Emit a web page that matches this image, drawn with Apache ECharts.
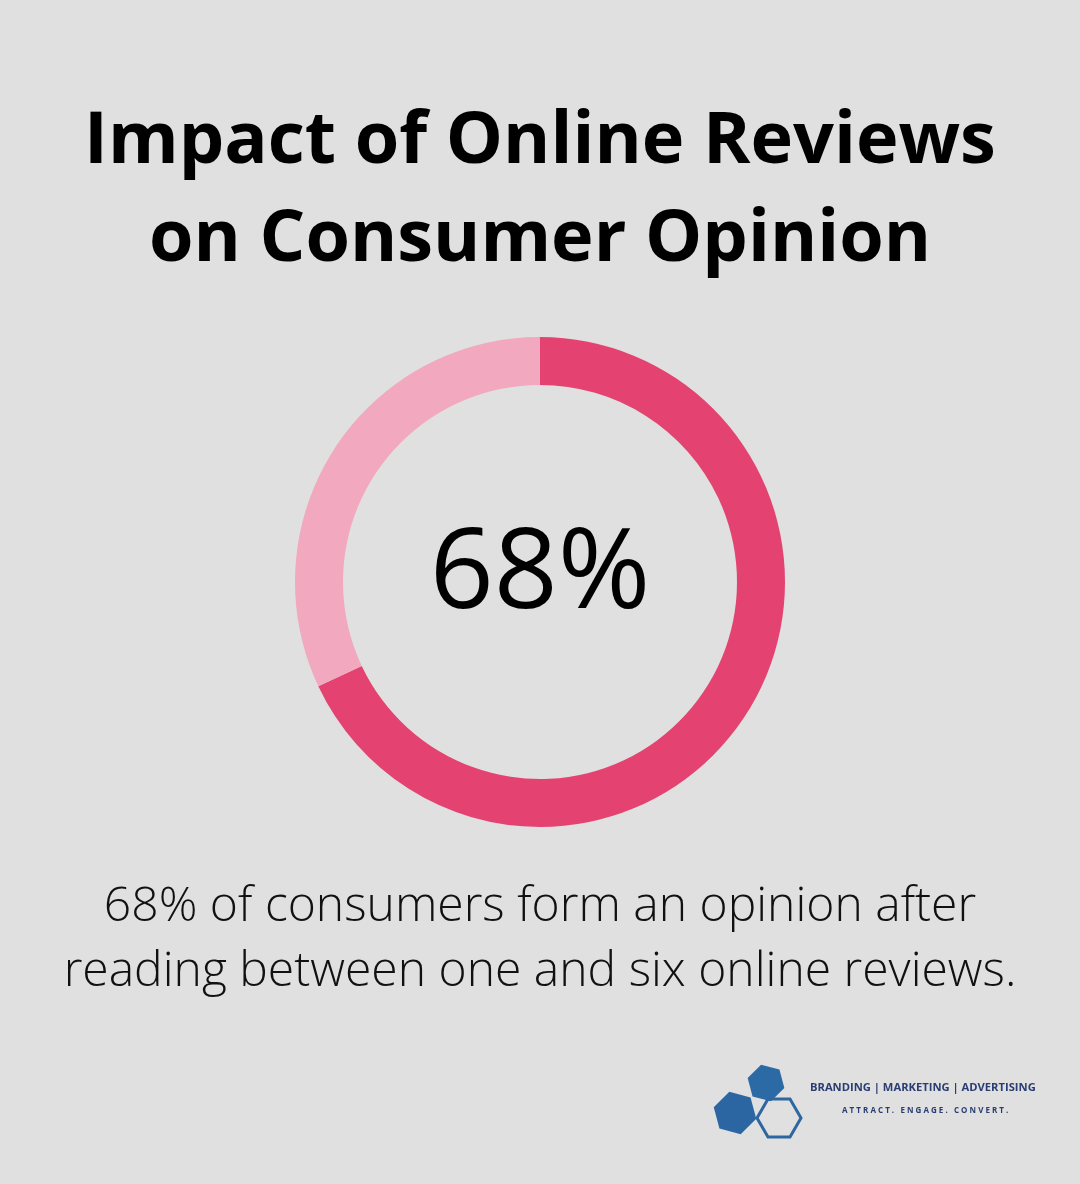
<!DOCTYPE html><html><head><meta charset="utf-8">
<script src="https://cdn.jsdelivr.net/npm/echarts@6/dist/echarts.min.js"></script>
<style>html,body{margin:0;background:#DFE0DF}#c{width:1080px;height:1184px}</style></head><body><div id="c"></div>
<script>
const categories=['Form opinion','Other'];
const values=[68,32];
const colors=['#E44372','#F2A8BE'];
function hex(cx,cy,r,rot){const p=[];for(let i=0;i<6;i++){const a=(rot+i*60)*Math.PI/180;p.push([cx+r*Math.cos(a),cy+r*Math.sin(a)]);}return p;}
const chart=echarts.init(document.getElementById('c'));
chart.setOption({backgroundColor:'#DFE0DF',
title:{text:'Impact of Online Reviews\non Consumer Opinion',left:'center',top:88,textStyle:{fontFamily:'Open Sans',fontWeight:'bold',fontSize:72,lineHeight:98,color:'#000'}},
series:[{type:'pie',center:[540,582],radius:[197,245],startAngle:90,clockwise:true,silent:true,label:{show:false},
data:categories.map((c,i)=>({name:c,value:values[i],itemStyle:{color:colors[i]}}))}],
graphic:[
{type:'text',left:'center',top:520,style:{text:values[0]+'%',font:'500 112px "Open Sans"',fill:'#000'}},
{type:'text',x:540,y:875,style:{text:'68% of consumers form an opinion after\nreading between one and six online reviews.',font:'300 48px "Open Sans"',lineHeight:65,fill:'#111',align:'center'}},
{type:'polygon',shape:{points:hex(766,1083,19,15)},style:{fill:'#2C6AA6'}},
{type:'polygon',shape:{points:hex(735,1113,22,15)},style:{fill:'#2B66A3'}},
{type:'polygon',shape:{points:hex(779,1118,22,0)},style:{fill:'none',stroke:'#2E66A2',lineWidth:3}},
{type:'text',x:810,y:1082,style:{text:'BRANDING | MARKETING | ADVERTISING',font:'bold 11.2px "Open Sans"',fill:'#2A3D73'}},
{type:'text',x:842,y:1107,style:{text:'A T T R A C T .   E N G A G E .   C O N V E R T .',font:'bold 8px "Open Sans"',fill:'#2A3D73'}}
]});
</script></body></html>
